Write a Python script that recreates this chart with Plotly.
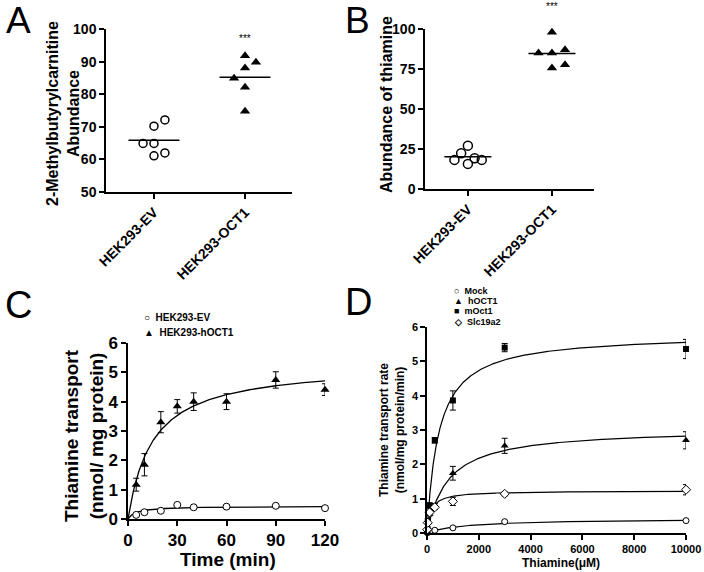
import numpy as np
import plotly.graph_objects as go

# ---------------- data ----------------
groups = ["HEK293-EV", "HEK293-OCT1"]

# Panel A: 2-Methylbutyrylcarnitine abundance
a_ev = [72.1, 70.2, 64.9, 64.9, 62.0, 61.1]
a_ev_off = [0.12, 0.0, -0.12, 0.0, 0.12, 0.0]
a_oct1 = [91.8, 89.8, 88.0, 84.9, 82.1, 74.8]
a_oct1_off = [0.0, 0.12, 0.0, -0.12, 0.0, 0.0]

# Panel B: abundance of thiamine
b_ev = [27.1, 22.3, 18.2, 15.7, 19.2, 18.2]
b_ev_off = [0.0, -0.08, -0.16, 0.0, 0.08, 0.165]
b_oct1 = [97.9, 85.0, 85.0, 87.0, 75.6, 77.7]
b_oct1_off = [0.0, -0.16, 0.0, 0.155, 0.0, 0.155]

# Panel C: time course
c_time = [5, 10, 20, 30, 40, 60, 90, 120]
c_ev = [0.14, 0.23, 0.28, 0.48, 0.40, 0.42, 0.45, 0.37]
c_ev_err = [0.03, 0.03, 0.03, 0.04, 0.03, 0.03, 0.03, 0.03]
c_hoct1 = [1.17, 1.85, 3.30, 3.84, 4.00, 4.00, 4.74, 4.41]
c_hoct1_err = [0.22, 0.38, 0.36, 0.23, 0.30, 0.27, 0.28, 0.20]
c_fit = {"HEK293-EV": (0.44, 5.0), "HEK293-hOCT1": (5.3, 15.0)}  # (Vmax, K)

# Panel D: concentration dependence
d_conc = [10, 30, 100, 300, 1000, 3000, 10000]
d_mock = [0.01, 0.02, 0.04, 0.08, 0.15, 0.33, 0.36]
d_mock_err = [0.01, 0.01, 0.01, 0.02, 0.02, 0.03, 0.03]
d_hoct1 = [0.03, 0.15, 0.55, 0.78, 1.74, 2.54, 2.70]
d_hoct1_err = [0.02, 0.03, 0.05, 0.08, 0.20, 0.22, 0.25]
d_moct1 = [0.05, 0.35, 0.80, 2.70, 3.86, 5.40, 5.36]
d_moct1_err = [0.02, 0.05, 0.08, 0.08, 0.28, 0.12, 0.28]
d_slc = [0.10, 0.30, 0.60, 0.75, 0.92, 1.14, 1.26]
d_slc_err = [0.02, 0.03, 0.05, 0.06, 0.12, 0.06, 0.15]
d_fit = {"Mock": (0.42, 1500.0), "hOCT1": (3.05, 800.0),
         "mOct1": (5.8, 450.0), "Slc19a2": (1.23, 150.0)}  # (Vmax, Km)

# ---------------- figure ----------------
W, H = 704, 572
FONT = "Liberation Sans, Arial, sans-serif"
BLACK = "black"

def xd(px0, px1):
    return [px0 / W, px1 / W]

def yd(py_bottom, py_top):
    return [1 - py_bottom / H, 1 - py_top / H]

fig = go.Figure()

def axis_common(size):
    return dict(showline=True, linecolor=BLACK, linewidth=1.5, ticks="outside",
                ticklen=5, tickwidth=1.5, tickcolor=BLACK, showgrid=False,
                zeroline=False, mirror=False, automargin=False,
                tickfont=dict(family=FONT, size=size, color=BLACK, weight="bold"))

def dot_panel(xa, ya, ev, ev_off, oct1, oct1_off, msize_c, msize_t):
    fig.add_trace(go.Scatter(
        x=[0 + o for o in ev_off], y=ev, mode="markers", xaxis=xa, yaxis=ya,
        marker=dict(symbol="circle-open", size=msize_c, color=BLACK, line=dict(width=1.5)),
        showlegend=False, cliponaxis=False))
    fig.add_trace(go.Scatter(
        x=[1 + o for o in oct1_off], y=oct1, mode="markers", xaxis=xa, yaxis=ya,
        marker=dict(symbol="triangle-up", size=msize_t, color=BLACK),
        showlegend=False, cliponaxis=False))
    for i, vals in enumerate([ev, oct1]):
        m = float(np.mean(vals))
        fig.add_trace(go.Scatter(
            x=[i - 0.28, i + 0.28], y=[m, m], mode="lines", xaxis=xa, yaxis=ya,
            line=dict(color=BLACK, width=1.5), showlegend=False, hoverinfo="skip"))

dot_panel("x", "y", a_ev, a_ev_off, a_oct1, a_oct1_off, 8, 9)
dot_panel("x2", "y2", b_ev, b_ev_off, b_oct1, b_oct1_off, 9, 9)

# ----- Panel C -----
tt = np.linspace(0, 120, 241)
for name, (vm, k) in c_fit.items():
    fig.add_trace(go.Scatter(x=tt, y=vm * tt / (k + tt), mode="lines", xaxis="x3", yaxis="y3",
                             line=dict(color=BLACK, width=1.3), showlegend=False, hoverinfo="skip"))
fig.add_trace(go.Scatter(
    x=c_time, y=c_ev, mode="markers", xaxis="x3", yaxis="y3",
    error_y=dict(type="data", array=c_ev_err, color=BLACK, thickness=1, width=3),
    marker=dict(symbol="circle", size=7, color="white", line=dict(color=BLACK, width=1)),
    showlegend=False, cliponaxis=False))
fig.add_trace(go.Scatter(
    x=c_time, y=c_hoct1, mode="markers", xaxis="x3", yaxis="y3",
    error_y=dict(type="data", array=c_hoct1_err, color=BLACK, thickness=1, width=3),
    marker=dict(symbol="triangle-up", size=8, color=BLACK),
    showlegend=False, cliponaxis=False))

# ----- Panel D -----
cc = np.concatenate([np.linspace(0, 1000, 400), np.linspace(1000, 10000, 300)])
for name, (vm, k) in d_fit.items():
    fig.add_trace(go.Scatter(x=cc, y=vm * cc / (k + cc), mode="lines", xaxis="x4", yaxis="y4",
                             line=dict(color=BLACK, width=1.2), showlegend=False, hoverinfo="skip"))
d_series = [
    (d_mock, d_mock_err, dict(symbol="circle", size=6, color="white", line=dict(color=BLACK, width=1))),
    (d_hoct1, d_hoct1_err, dict(symbol="triangle-up", size=7, color=BLACK)),
    (d_moct1, d_moct1_err, dict(symbol="square", size=6, color=BLACK)),
    (d_slc, d_slc_err, dict(symbol="diamond", size=7, color="white", line=dict(color=BLACK, width=1))),
]
for vals, err, mk in d_series:
    fig.add_trace(go.Scatter(
        x=d_conc, y=vals, mode="markers", xaxis="x4", yaxis="y4",
        error_y=dict(type="data", array=err, color=BLACK, thickness=1, width=3),
        marker=mk, showlegend=False, cliponaxis=False))

# ---------------- layout ----------------
layout = dict(
    width=W, height=H, margin=dict(l=0, r=0, t=0, b=0),
    paper_bgcolor="white", plot_bgcolor="white", showlegend=False,
    font=dict(family=FONT, color=BLACK),
)

d_xticks = [0, 2000, 4000, 6000, 8000, 10000]

layout["xaxis"] = dict(axis_common(14), domain=xd(106, 292), range=[-0.527, 1.516],
                       tickvals=[0, 1], ticktext=groups, tickangle=-45, anchor="y")
layout["yaxis"] = dict(axis_common(14), domain=yd(192, 29), range=[50, 100],
                       tickvals=[50, 60, 70, 80, 90, 100], anchor="x")
layout["xaxis2"] = dict(axis_common(14), domain=xd(425, 594), range=[-0.51, 1.5],
                        tickvals=[0, 1], ticktext=groups, tickangle=-45, anchor="y2")
layout["yaxis2"] = dict(axis_common(14), domain=yd(189, 29), range=[0, 100],
                        tickvals=[0, 25, 50, 75, 100], anchor="x2")
layout["xaxis3"] = dict(axis_common(17), domain=xd(128, 325), range=[0, 120],
                        tickvals=[0, 30, 60, 90, 120], anchor="y3")
layout["yaxis3"] = dict(axis_common(17), domain=yd(519, 343), range=[0, 6],
                        tickvals=[0, 1, 2, 3, 4, 5, 6], anchor="x3")
layout["xaxis4"] = dict(axis_common(11), domain=xd(427, 686), range=[0, 10000],
                        tickvals=d_xticks, ticktext=[str(v) for v in d_xticks], anchor="y4")
layout["yaxis4"] = dict(axis_common(11), domain=yd(533, 327), range=[0, 6],
                        tickvals=[0, 1, 2, 3, 4, 5, 6], anchor="x4")

ann = []
def text_at(t, px, py, size, bold=True, angle=0, xanchor="center"):
    f = dict(family=FONT, size=size, color=BLACK)
    if bold:
        f["weight"] = "bold"
    ann.append(dict(text=t, x=px / W, y=1 - py / H, xref="paper", yref="paper",
                    showarrow=False, xanchor=xanchor, yanchor="middle", textangle=angle,
                    borderpad=0, font=f))

# panel letters
text_at("A", 18, 21, 37, bold=False)
text_at("B", 357, 21, 37, bold=False)
text_at("C", 18, 305, 38, bold=False)
text_at("D", 358, 302, 38, bold=False)

# axis titles
text_at("2-Methylbutyrylcarnitine<br>Abundance", 63, 114, 16, angle=-90)
text_at("Abundance of thiamine", 387, 105, 16, angle=-90)
text_at("Thiamine transport<br>(nmol/ mg protein)", 84, 436, 19, angle=-90)
text_at("Time (min)", 228, 559, 19)
text_at("Thiamine transport rate<br>(nmol/mg protein/min)", 392, 430, 12, angle=-90)
text_at("Thiamine(μM)", 561, 563, 12)

# significance stars
ann.append(dict(text="***", x=1, y=1 - 38 / H, xref="x", yref="paper", showarrow=False,
                xanchor="center", yanchor="middle", font=dict(family=FONT, size=10, color=BLACK)))
ann.append(dict(text="***", x=1, y=1 - 7 / H, xref="x2", yref="paper", showarrow=False,
                xanchor="center", yanchor="middle", font=dict(family=FONT, size=10, color=BLACK)))

# legends
text_at("○  HEK293-EV", 143, 317, 10, xanchor="left")
text_at("▲  HEK293-hOCT1", 143, 332, 10, xanchor="left")
text_at("○  Mock", 453, 291, 9, xanchor="left")
text_at("▲  hOCT1", 453, 301, 9, xanchor="left")
text_at("■  mOct1", 453, 311, 9, xanchor="left")
text_at("◇  Slc19a2", 453, 322, 9, xanchor="left")

layout["annotations"] = ann
fig.update_layout(**layout)
fig.write_html("out.html", post_script="document.body.style.margin='0';",
               config={"displayModeBar": False})
